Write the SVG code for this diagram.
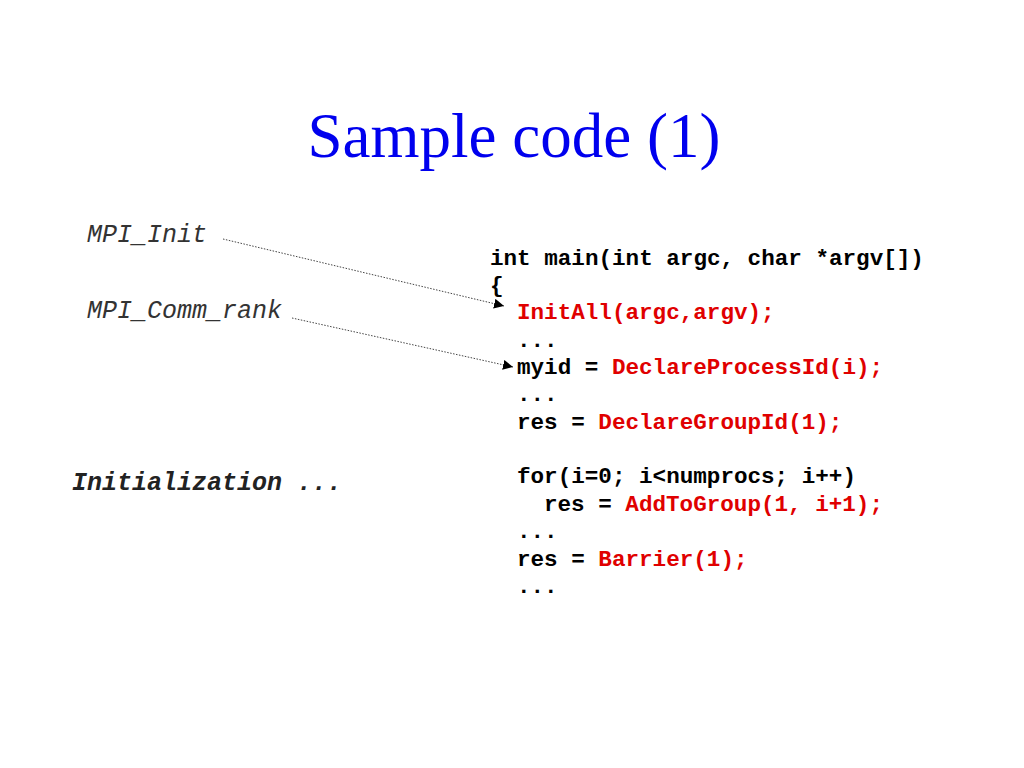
<svg xmlns="http://www.w3.org/2000/svg" width="1024" height="768" viewBox="0 0 1024 768">
<style>
.title{font-family:"Liberation Serif","Times New Roman",serif;font-size:63px;fill:#0000ee}
.code{font-family:"Liberation Mono","Courier New",monospace;font-size:22.6px;font-weight:bold;fill:#000}
.r{fill:#e00000}
.lbl{font-family:"Liberation Mono","Courier New",monospace;font-size:25px;font-style:italic;fill:#333}
.lblb{font-family:"Liberation Mono","Courier New",monospace;font-size:25px;font-style:italic;font-weight:bold;fill:#222}
.conn{stroke:#444;stroke-width:1;stroke-dasharray:1.5,1.5;fill:none}
</style>
<defs>
<marker id="ah" viewBox="0 0 10 10" refX="10" refY="5" markerWidth="10" markerHeight="10" markerUnits="userSpaceOnUse" orient="auto">
<path d="M0,0 L10,5 L0,10 z" fill="#000"/>
</marker>
</defs>
<rect width="1024" height="768" fill="#fff"/>
<g id="title"><text class="title" x="514" y="157" text-anchor="middle">Sample code (1)</text></g>
<g id="mpi_init"><text class="lbl" x="87" y="242">MPI_Init</text></g>
<g id="mpi_comm_rank"><text class="lbl" x="87" y="318">MPI_Comm_rank</text></g>
<g id="initialization"><text class="lblb" x="72" y="490">Initialization ...</text></g>
<g id="code">
<text class="code" x="490" y="265">int main(int argc, char *argv[])</text>
<text class="code" x="490" y="292">{</text>
<text class="code" x="517" y="319"><tspan class="r">InitAll(argc,argv);</tspan></text>
<text class="code" x="517" y="347">...</text>
<text class="code" x="517" y="374">myid = <tspan class="r">DeclareProcessId(i);</tspan></text>
<text class="code" x="517" y="401">...</text>
<text class="code" x="517" y="429">res = <tspan class="r">DeclareGroupId(1);</tspan></text>
<text class="code" x="517" y="483">for(i=0; i&lt;numprocs; i++)</text>
<text class="code" x="544" y="511">res = <tspan class="r">AddToGroup(1, i+1);</tspan></text>
<text class="code" x="517" y="538">...</text>
<text class="code" x="517" y="566">res = <tspan class="r">Barrier(1);</tspan></text>
<text class="code" x="517" y="593">...</text>
</g>
<g id="connectors">
<line class="conn" x1="223" y1="239" x2="504" y2="306" marker-end="url(#ah)"/>
<line class="conn" x1="292" y1="318" x2="513" y2="367" marker-end="url(#ah)"/>
</g>
</svg>
